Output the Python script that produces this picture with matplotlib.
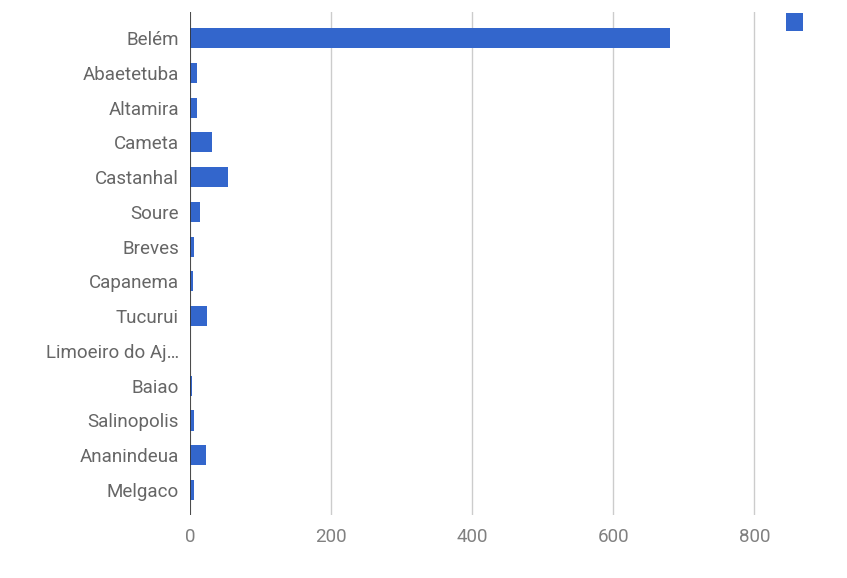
import matplotlib
matplotlib.use("Agg")
import matplotlib.pyplot as plt
from matplotlib.patches import Patch

cities = ["Belém", "Abaetetuba", "Altamira", "Cameta", "Castanhal", "Soure", "Breves",
          "Capanema", "Tucurui", "Limoeiro do Aj…", "Baiao", "Salinopolis", "Ananindeua", "Melgaco"]
values = [680, 10, 10, 31, 54, 14, 5, 4, 24, 0, 3, 5, 22, 6]
xticks = [0, 200, 400, 600, 800]

plt.rcParams['font.family'] = ['Roboto', 'DejaVu Sans']
W, H = 847, 578
fig = plt.figure(figsize=(W/100, H/100), dpi=100)
left, right, top, bottom = 190, 825, 12, 515
ax = fig.add_axes([left/W, 1-bottom/H, (right-left)/W, (bottom-top)/H])

blue = "#3366CC"
ypos = list(range(len(cities)))
ax.barh(ypos, values, height=0.58, color=blue, zorder=3)
ax.set_ylim(len(cities)-0.28, -0.75)
ax.set_xlim(0, 900)
ax.set_yticks(ypos)
ax.set_yticklabels(cities, fontsize=13.5, color="#666666")
ax.set_xticks(xticks)
ax.set_xticklabels([str(t) for t in xticks], fontsize=13.5, color="#808080")
ax.tick_params(length=0, pad=8)
ax.tick_params(axis='x', pad=9)
for s in ax.spines.values():
    s.set_visible(False)
ax.grid(axis='x', color="#cccccc", linewidth=1, zorder=0)
ax.axvline(0, color="#333333", linewidth=1.2, zorder=4)

fig.legend(handles=[Patch(facecolor=blue)], labels=[""], loc="upper left",
           bbox_to_anchor=(775/W, 1-2/H), frameon=False, handlelength=1.25, handleheight=1.6,
           borderpad=0.3, fontsize=10)

fig.savefig("out.png", dpi=100, facecolor="white")
